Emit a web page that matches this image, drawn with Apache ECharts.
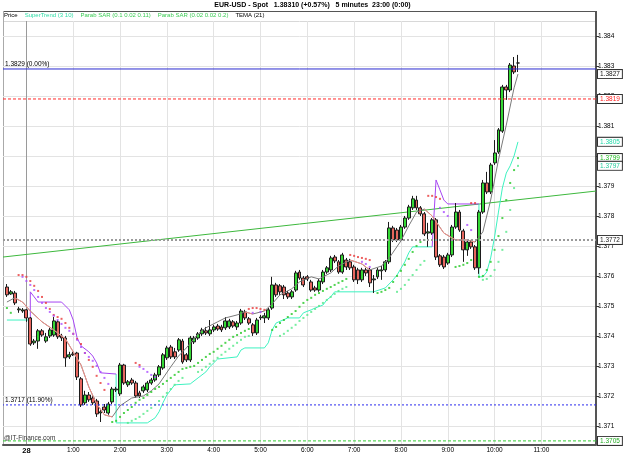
<!DOCTYPE html>
<html><head><meta charset="utf-8">
<script src="https://cdn.jsdelivr.net/npm/echarts@6/dist/echarts.min.js"></script>
<style>html,body{margin:0;padding:0;background:#fff}#c{width:625px;height:455px}</style>
</head><body><div id="c"></div>
<script>
// ---------- DATA ----------
const categories = [
'23:30','23:35','23:40','23:45','23:50','23:55',
'0:00','0:05','0:10','0:15','0:20','0:25','0:30','0:35','0:40','0:45','0:50','0:55',
'1:00','1:05','1:10','1:15','1:20','1:25','1:30','1:35','1:40','1:45','1:50','1:55',
'2:00','2:05','2:10','2:15','2:20','2:25','2:30','2:35','2:40','2:45','2:50','2:55',
'3:00','3:05','3:10','3:15','3:20','3:25','3:30','3:35','3:40','3:45','3:50','3:55',
'4:00','4:05','4:10','4:15','4:20','4:25','4:30','4:35','4:40','4:45','4:50','4:55',
'5:00','5:05','5:10','5:15','5:20','5:25','5:30','5:35','5:40','5:45','5:50','5:55',
'6:00','6:05','6:10','6:15','6:20','6:25','6:30','6:35','6:40','6:45','6:50','6:55',
'7:00','7:05','7:10','7:15','7:20','7:25','7:30','7:35','7:40','7:45','7:50','7:55',
'8:00','8:05','8:10','8:15','8:20','8:25','8:30','8:35','8:40','8:45','8:50','8:55',
'9:00','9:05','9:10','9:15','9:20','9:25','9:30','9:35','9:40','9:45','9:50','9:55',
'10:00','10:05','10:10','10:15','10:20','10:25','10:30','10:35','10:40','10:45','10:50','10:55',
'11:00','11:05','11:10','11:15','11:20','11:25','11:30','11:35','11:40','11:45','11:50','11:55',
'12:00','12:05','12:10'];
const dayLabel = {'0:00': '28'};
const hourLabels = ['0:00','1:00','2:00','3:00','4:00','5:00','6:00','7:00','8:00','9:00','10:00','11:00'];

// candles from 23:35, 5-minute bars: [open, close, low, high]
const candleStart = '23:35';
const candles = [
[1.37563,1.37537,1.37530,1.37573],[1.37540,1.37547,1.37537,1.37553],[1.37543,1.37510,1.37503,1.37550],
[1.37487,1.37490,1.37477,1.37497],[1.37483,1.37487,1.37477,1.37493],
[1.37487,1.37460,1.37447,1.37490],[1.37460,1.37373,1.37367,1.37463],[1.37377,1.37383,1.37370,1.37390],
[1.37383,1.37417,1.37357,1.37423],[1.37417,1.37403,1.37397,1.37423],[1.37383,1.37397,1.37377,1.37410],
[1.37400,1.37420,1.37393,1.37427],[1.37403,1.37450,1.37397,1.37463],[1.37447,1.37397,1.37390,1.37453],
[1.37400,1.37393,1.37383,1.37407],[1.37393,1.37327,1.37297,1.37400],[1.37330,1.37337,1.37323,1.37347],
[1.37340,1.37337,1.37333,1.37347],[1.37343,1.37263,1.37253,1.37347],[1.37257,1.37170,1.37163,1.37263],
[1.37177,1.37203,1.37170,1.37217],[1.37203,1.37187,1.37180,1.37213],[1.37193,1.37177,1.37170,1.37203],
[1.37183,1.37140,1.37130,1.37190],[1.37143,1.37147,1.37113,1.37153],[1.37163,1.37153,1.37143,1.37173],
[1.37143,1.37173,1.37137,1.37180],[1.37180,1.37223,1.37173,1.37230],[1.37220,1.37223,1.37213,1.37230],
[1.37207,1.37303,1.37200,1.37310],[1.37303,1.37243,1.37237,1.37307],[1.37237,1.37247,1.37230,1.37253],
[1.37253,1.37243,1.37237,1.37260],[1.37243,1.37200,1.37193,1.37250],[1.37210,1.37200,1.37193,1.37217],
[1.37217,1.37230,1.37210,1.37237],[1.37220,1.37243,1.37213,1.37250],[1.37243,1.37253,1.37237,1.37260],
[1.37253,1.37270,1.37247,1.37277],[1.37270,1.37297,1.37263,1.37303],[1.37293,1.37337,1.37287,1.37343],
[1.37327,1.37360,1.37320,1.37367],[1.37363,1.37330,1.37323,1.37370],[1.37347,1.37330,1.37323,1.37360],
[1.37353,1.37387,1.37347,1.37393],[1.37383,1.37313,1.37307,1.37390],[1.37337,1.37320,1.37313,1.37343],
[1.37320,1.37393,1.37313,1.37400],[1.37380,1.37393,1.37373,1.37400],[1.37393,1.37407,1.37387,1.37413],
[1.37407,1.37420,1.37400,1.37427],[1.37417,1.37410,1.37403,1.37430],[1.37407,1.37420,1.37400,1.37453],
[1.37420,1.37430,1.37413,1.37437],[1.37433,1.37423,1.37417,1.37440],[1.37430,1.37420,1.37413,1.37437],
[1.37427,1.37450,1.37420,1.37463],[1.37430,1.37450,1.37423,1.37457],[1.37447,1.37433,1.37427,1.37453],
[1.37430,1.37443,1.37420,1.37450],[1.37443,1.37483,1.37437,1.37490],[1.37480,1.37460,1.37453,1.37487],
[1.37457,1.37443,1.37437,1.37463],[1.37437,1.37410,1.37400,1.37443],[1.37410,1.37453,1.37403,1.37460],
[1.37460,1.37463,1.37453,1.37470],[1.37460,1.37467,1.37443,1.37477],[1.37460,1.37487,1.37453,1.37493],
[1.37493,1.37570,1.37487,1.37597],[1.37570,1.37537,1.37530,1.37577],[1.37567,1.37547,1.37537,1.37573],
[1.37563,1.37537,1.37523,1.37570],[1.37543,1.37530,1.37523,1.37550],[1.37530,1.37547,1.37523,1.37553],
[1.37553,1.37610,1.37547,1.37617],[1.37613,1.37593,1.37587,1.37620],[1.37593,1.37570,1.37563,1.37600],
[1.37597,1.37590,1.37583,1.37603],[1.37580,1.37553,1.37547,1.37587],[1.37560,1.37553,1.37547,1.37567],
[1.37553,1.37583,1.37547,1.37590],[1.37580,1.37613,1.37573,1.37620],[1.37613,1.37627,1.37607,1.37633],
[1.37620,1.37660,1.37613,1.37667],[1.37663,1.37650,1.37643,1.37670],[1.37647,1.37613,1.37607,1.37653],
[1.37613,1.37670,1.37607,1.37677],[1.37653,1.37630,1.37620,1.37660],[1.37647,1.37627,1.37620,1.37657],
[1.37630,1.37587,1.37580,1.37637],[1.37620,1.37587,1.37573,1.37627],[1.37587,1.37620,1.37580,1.37627],
[1.37620,1.37610,1.37600,1.37627],[1.37620,1.37577,1.37563,1.37627],[1.37587,1.37590,1.37543,1.37603],
[1.37597,1.37620,1.37590,1.37627],[1.37617,1.37620,1.37587,1.37633],[1.37620,1.37647,1.37613,1.37653],
[1.37647,1.37760,1.37640,1.37780],[1.37760,1.37720,1.37713,1.37767],[1.37753,1.37720,1.37713,1.37760],
[1.37720,1.37763,1.37713,1.37770],[1.37763,1.37793,1.37757,1.37800],[1.37793,1.37830,1.37787,1.37837],
[1.37827,1.37857,1.37820,1.37867],[1.37853,1.37827,1.37820,1.37867],[1.37827,1.37807,1.37800,1.37833],
[1.37807,1.37740,1.37733,1.37813],[1.37743,1.37747,1.37697,1.37777],[1.37743,1.37787,1.37737,1.37793],
[1.37787,1.37663,1.37653,1.37793],[1.37667,1.37637,1.37630,1.37673],[1.37663,1.37630,1.37623,1.37670],
[1.37643,1.37670,1.37637,1.37677],[1.37670,1.37763,1.37663,1.37770],[1.37763,1.37813,1.37757,1.37843],
[1.37813,1.37753,1.37747,1.37820],[1.37750,1.37687,1.37647,1.37757],[1.37687,1.37713,1.37667,1.37720],
[1.37713,1.37697,1.37690,1.37720],[1.37697,1.37627,1.37620,1.37703],[1.37627,1.37813,1.37607,1.37820],
[1.37813,1.37910,1.37807,1.37920],[1.37910,1.37880,1.37873,1.37947],[1.37880,1.37970,1.37873,1.37977],
[1.37977,1.38010,1.37970,1.38053],[1.38013,1.38087,1.38007,1.38093],[1.38083,1.38230,1.38077,1.38237],
[1.38230,1.38220,1.38187,1.38237],[1.38220,1.38303,1.38213,1.38310],[1.38300,1.38280,1.38273,1.38330],
[1.38310,1.38310,1.38280,1.38337]];

const tema = [['23:35',1.37513],['23:45',1.37527],['23:55',1.37513],['0:05',1.37483],['0:20',1.37447],['0:35',1.37420],
['0:50',1.37390],['1:00',1.37347],['1:10',1.37303],['1:20',1.37230],['1:30',1.37173],['1:40',1.37137],['1:50',1.37130],
['2:00',1.37167],['2:15',1.37193],['2:30',1.37200],['2:40',1.37217],['2:50',1.37240],['3:05',1.37297],['3:15',1.37333],
['3:25',1.37360],['3:40',1.37407],['3:50',1.37427],['4:05',1.37447],['4:15',1.37460],['4:30',1.37470],['4:40',1.37480],
['4:50',1.37473],['5:05',1.37483],['5:15',1.37507],['5:25',1.37537],['5:40',1.37557],['5:50',1.37580],['6:05',1.37597],
['6:15',1.37590],['6:30',1.37610],['6:40',1.37633],['6:55',1.37653],['7:10',1.37640],['7:20',1.37620],['7:35',1.37633],
['7:45',1.37660],['8:00',1.37717],['8:10',1.37767],['8:20',1.37813],['8:30',1.37823],['8:40',1.37800],['8:55',1.37743],
['9:10',1.37720],['9:25',1.37720],['9:35',1.37713],['9:45',1.37747],['9:55',1.37853],['10:05',1.37987],['10:15',1.38103],
['10:25',1.38227],['10:30',1.38273]];
const temaFalling = [['23:45','1:50'],['4:40','4:50'],['6:55','7:20'],['8:30','9:35']];

const superTrendUp = [
[['23:35',1.37453],['0:05',1.37453]],
[['1:55',1.37273],['1:55',1.37110],['2:35',1.37110],['2:45',1.37127],['2:50',1.37147],['2:55',1.37177],['3:00',1.37203],
 ['3:05',1.37220],['3:10',1.37237],['3:30',1.37240],['3:40',1.37260],['3:50',1.37280],['3:55',1.37297],['4:00',1.37310],
 ['4:05',1.37323],['4:30',1.37330],['4:35',1.37353],['4:40',1.37360],['5:05',1.37360],['5:10',1.37377],['5:15',1.37420],
 ['5:20',1.37443],['5:35',1.37460],['5:50',1.37460],['5:55',1.37477],['6:05',1.37487],['6:10',1.37493],['6:20',1.37503],
 ['6:25',1.37520],['6:30',1.37530],['6:35',1.37547],['7:25',1.37547],['7:40',1.37560],['7:50',1.37587],['7:55',1.37603],
 ['8:05',1.37647],['8:10',1.37677],['8:15',1.37697],['8:40',1.37697]],
[['9:40',1.37840],['9:40',1.37597],['9:45',1.37597],['9:50',1.37613],['9:55',1.37660],['10:00',1.37730],['10:05',1.37813],
 ['10:10',1.37893],['10:15',1.37943],['10:20',1.37967],['10:25',1.38000],['10:30',1.38047]]];
const superTrendDown = [
[['0:05',1.37453],['0:05',1.37547],['0:10',1.37530],['0:15',1.37513],['0:45',1.37513],['0:50',1.37500],['0:55',1.37487],
 ['1:00',1.37453],['1:05',1.37393],['1:10',1.37367],['1:20',1.37347],['1:25',1.37333],['1:30',1.37310],['1:35',1.37277],['1:55',1.37273]],
[['8:40',1.37697],['8:45',1.37920],['8:50',1.37887],['8:55',1.37853],['9:00',1.37840],['9:40',1.37840]]];

const sarFastAbove = [['23:50',1.37603],['23:55',1.37603],['0:00',1.37597],['0:05',1.37583],['0:10',1.37567],['0:15',1.37550],
['0:20',1.37530],['0:25',1.37510],['0:30',1.37490],['0:35',1.37470],['0:40',1.37463],['0:45',1.37457],['0:50',1.37443],
['0:55',1.37427],['1:00',1.37407],['1:05',1.37390],['1:10',1.37373],['1:15',1.37343],['1:20',1.37320],['1:25',1.37297],
['1:30',1.37267],['1:35',1.37243],['1:40',1.37220],['2:20',1.37310],['2:25',1.37303],
['4:45',1.37490],['4:50',1.37493],['4:55',1.37493],['5:00',1.37490],['5:05',1.37487],
['6:55',1.37670],['7:00',1.37667],['7:05',1.37663],['7:10',1.37660],['7:15',1.37657],['7:20',1.37653],
['8:35',1.37867],['8:40',1.37867],['8:45',1.37863],['8:50',1.37857],['9:30',1.37843],['9:35',1.37843]];
const sarSlowAbove = [['23:55',1.37597],['0:00',1.37583],['0:05',1.37570],['0:10',1.37553],['0:15',1.37530],['0:20',1.37510],
['0:25',1.37493],['0:30',1.37480],['0:35',1.37467],['0:40',1.37453],['0:45',1.37440],['0:50',1.37427],['0:55',1.37417],
['1:00',1.37407],['1:05',1.37387],['1:10',1.37363],['1:15',1.37343],['1:20',1.37330],['1:25',1.37317],['1:30',1.37300],
['1:35',1.37280],['1:40',1.37260],['1:45',1.37240],['2:25',1.37297],['2:30',1.37290],['2:35',1.37280],['2:40',1.37270],
['2:45',1.37263],['4:50',1.37477],['5:00',1.37480],['7:10',1.37647],['7:15',1.37640],['7:20',1.37630],
['8:50',1.37827],['8:55',1.37813],['9:00',1.37800],['9:25',1.37770],['9:30',1.37753]];
const sarFastBelow = [['23:35',1.37493],['23:40',1.37477],
['1:50',1.37113],['1:55',1.37117],['2:00',1.37130],['2:05',1.37143],['2:10',1.37153],['2:15',1.37163],['2:20',1.37177],
['2:25',1.37187],['2:30',1.37193],['2:35',1.37203],['2:40',1.37213],['2:45',1.37223],['2:50',1.37230],['2:55',1.37240],
['3:00',1.37250],['3:05',1.37260],['3:10',1.37270],['3:15',1.37280],['3:20',1.37290],['3:25',1.37293],['3:30',1.37297],
['3:35',1.37300],['3:40',1.37310],['3:45',1.37320],['3:50',1.37330],['3:55',1.37340],['4:00',1.37347],['4:05',1.37357],
['4:10',1.37367],['4:15',1.37377],['4:20',1.37387],['4:25',1.37397],['4:30',1.37403],['4:35',1.37410],['4:40',1.37417],
['4:45',1.37423],
['5:15',1.37420],['5:20',1.37430],['5:25',1.37443],['5:30',1.37453],['5:35',1.37463],['5:40',1.37473],['5:45',1.37483],
['5:50',1.37497],['5:55',1.37510],['6:00',1.37520],['6:05',1.37527],['6:10',1.37537],['6:15',1.37543],['6:20',1.37550],
['6:25',1.37557],['6:30',1.37563],['6:35',1.37570],['6:40',1.37577],['6:45',1.37583],['6:50',1.37590],
['7:30',1.37543],['7:35',1.37547],['7:40',1.37553],['7:45',1.37560],['7:50',1.37580],['7:55',1.37600],['8:00',1.37617],
['8:05',1.37637],['8:10',1.37657],['8:15',1.37680],['8:20',1.37700],['8:25',1.37713],['8:30',1.37720],
['9:10',1.37630],['9:15',1.37633],['9:20',1.37637],['9:25',1.37643],['9:30',1.37653],
['9:40',1.37597],['9:45',1.37600],['9:50',1.37620],['9:55',1.37647],['10:00',1.37687],['10:05',1.37733],['10:10',1.37793],
['10:15',1.37853],['10:20',1.37910],['10:25',1.37953],['10:30',1.37993]];
const sarSlowBelow = [['2:10',1.37110],['2:15',1.37117],['2:20',1.37123],['2:25',1.37130],['2:30',1.37140],['2:35',1.37150],
['2:40',1.37160],['2:45',1.37170],['2:50',1.37183],['2:55',1.37197],['3:00',1.37210],['3:05',1.37223],['3:10',1.37237],
['3:15',1.37250],['3:20',1.37260],
['3:40',1.37280],['3:45',1.37287],['3:50',1.37297],['3:55',1.37307],['4:00',1.37317],['4:05',1.37327],['4:10',1.37337],
['4:15',1.37347],['4:20',1.37357],['4:25',1.37367],['4:30',1.37377],['4:35',1.37387],['4:40',1.37397],['4:45',1.37400],
['5:25',1.37400],['5:30',1.37407],['5:35',1.37417],['5:40',1.37427],['5:45',1.37437],['5:50',1.37450],['5:55',1.37460],
['6:00',1.37470],['6:05',1.37480],['6:10',1.37490],['6:15',1.37500],['6:20',1.37510],['6:25',1.37520],['6:30',1.37530],
['6:35',1.37540],['6:40',1.37550],['6:45',1.37557],['6:50',1.37563],
['7:55',1.37547],['8:00',1.37557],['8:05',1.37570],['8:10',1.37587],['8:15',1.37603],['8:20',1.37620],['8:25',1.37637],
['8:30',1.37650],
['9:45',1.37587],['9:50',1.37590],['9:55',1.37600],['10:00',1.37620],['10:05',1.37647],['10:10',1.37687],['10:15',1.37747],
['10:20',1.37820],['10:25',1.37893],['10:30',1.37967]];

const trendLine = [['23:30',1.37663],['12:10',1.37883]];
const yTicks = [1.371,1.372,1.373,1.374,1.375,1.376,1.377,1.378,1.379,1.380,1.381,1.382,1.383,1.384];
const yMin = 1.37038, yMax = 1.3845;
const levelHigh = 1.3829, levelHighNote = '(0.00%)';
const levelLow = 1.3717, levelLowNote = '(11.90%)';
const levelRed = 1.3819, levelGray = 1.3772, levelGreen = 1.3705;
const titleText = 'EUR-USD - Spot   1.38310 (+0.57%)   5 minutes  23:00 (0:00)';

// ---------- CHART ----------
const FONT = 'Liberation Sans, Arial, sans-serif';
const C_ST_UP = '#3df2c0', C_ST_DN = '#a545f2', C_SAR = '#3ccc55';
const startIdx = categories.indexOf(candleStart);
const candleData = candles.map((c, j) => [startIdx + j, c[0], c[1], c[2], c[3]]);
const last = a => a[a.length - 1][1];
const catIdx = t => categories.indexOf(t);
const firstCat = categories[0], lastCat = categories[categories.length - 1];

const boxLabel = (text, color) => ({show: true, formatter: () => text, distance: 2, color: color, fontSize: 6.5,
  fontFamily: FONT, backgroundColor: '#fff', borderColor: '#333', borderWidth: 1, padding: [1, 2, 0, 2]});
const leftLabel = (text) => ({show: true, formatter: () => text, distance: 2, offset: [0, -5], color: '#000',
  fontSize: 6.5, fontFamily: FONT});

const series = [];
series.push({name: 'trend', type: 'line', data: trendLine, showSymbol: false, silent: true, z: 1,
  lineStyle: {color: '#3db83d', width: 1}, itemStyle: {color: '#3db83d'}});
// horizontal level lines; labelled at the right end (or left end when reversed)
const levelSeries = (v, color, type, width, label, reversed) => ({name: 'level', type: 'line', silent: true,
  showSymbol: false, z: 6, data: reversed ? [[lastCat, v], [firstCat, v]] : [[firstCat, v], [lastCat, v]],
  lineStyle: {color: color, type: type, width: width}, itemStyle: {color: color}, endLabel: label});
series.push(levelSeries(levelHigh, '#2a2ad0', 'solid', 1, leftLabel(levelHigh.toFixed(4) + ' ' + levelHighNote), true));
series.push(levelSeries(levelRed, '#ff2a2a', [3, 2], 1, boxLabel(levelRed.toFixed(4), '#ff2020')));
series.push(levelSeries(levelGray, '#9a9a9a', [2, 2], 2, boxLabel(levelGray.toFixed(4), '#222')));
series.push(levelSeries(levelLow, '#2a2aee', [2, 2], 1, leftLabel(levelLow.toFixed(4) + ' ' + levelLowNote), true));
series.push(levelSeries(levelGreen, '#33cc33', [3, 2], 1, boxLabel(levelGreen.toFixed(4), '#22aa22')));
// last-value tags on the price scale (no visible line)
const tags = [[last(tema), '#111'], [last(superTrendUp[superTrendUp.length - 1]), '#20d8a8'],
  [last(sarFastBelow), '#22bb22'], [last(sarSlowBelow), '#22cc99']];
tags.forEach(t => series.push(levelSeries(t[0], 'rgba(0,0,0,0)', 'solid', 1, boxLabel(t[0].toFixed(4), t[1]))));

superTrendUp.forEach(seg => series.push({name: 'SuperTrend (3 10)', type: 'line', data: seg, showSymbol: false, z: 2,
  lineStyle: {color: C_ST_UP, width: 1}, itemStyle: {color: C_ST_UP}}));
superTrendDown.forEach(seg => series.push({name: 'SuperTrend (3 10)', type: 'line', data: seg, showSymbol: false, z: 2,
  lineStyle: {color: C_ST_DN, width: 1}, itemStyle: {color: C_ST_UP}}));
series.push({
  name: 'Price', type: 'candlestick', data: candleData, barWidth: 3.4, z: 3,
  dimensions: ['t', 'open', 'close', 'lowest', 'highest'],
  encode: {x: 't', y: ['open', 'close', 'lowest', 'highest']},
  itemStyle: {color: '#35d835', color0: '#e8665e', borderColor: '#1c1c1c', borderColor0: '#1c1c1c', borderWidth: 1}
});
series.push({name: 'TEMA (21)', type: 'line', data: tema, showSymbol: false, z: 4,
  lineStyle: {width: 1, color: '#7a7a7a'}, itemStyle: {color: '#333'}});
temaFalling.forEach(r => series.push({name: 'TEMA (21)', type: 'line', showSymbol: false, z: 4.1,
  data: tema.filter(p => catIdx(p[0]) >= catIdx(r[0]) && catIdx(p[0]) <= catIdx(r[1])),
  lineStyle: {width: 1, color: '#f29088'}, itemStyle: {color: '#333'}}));
const dots = (name, data, color) => ({name: name, type: 'scatter', data: data, symbol: 'rect', symbolSize: 2, z: 5,
  itemStyle: {color: color}});
series.push(dots('Parab SAR (0.1 0.02 0.11)', sarFastAbove, '#e83a3a'));
series.push(dots('Parab SAR (0.1 0.02 0.11)', sarFastBelow, '#25c825'));
series.push(dots('Parab SAR (0.02 0.02 0.2)', sarSlowAbove, '#aa4cff'));
series.push(dots('Parab SAR (0.02 0.02 0.2)', sarSlowBelow, '#55e888'));

const isHour = v => hourLabels.indexOf(v) >= 0;
const gridColors = hourLabels.map(h => dayLabel[h] ? '#9a9a9a' : '#e3e3e3');

const option = {
  animation: false,
  textStyle: {fontFamily: FONT},
  title: {text: titleText, left: 'center', top: 0, padding: [2, 5], textStyle: {fontSize: 7, fontWeight: 'bold', color: '#000', fontFamily: FONT}},
  legend: {
    left: -1, top: 12, icon: 'none', itemWidth: 0, itemHeight: 0, itemGap: 2, padding: 0, selectedMode: false,
    textStyle: {fontSize: 6, fontFamily: FONT},
    data: [
      {name: 'Price', textStyle: {color: '#000'}},
      {name: 'SuperTrend (3 10)', textStyle: {color: '#2fdca6'}},
      {name: 'Parab SAR (0.1 0.02 0.11)', textStyle: {color: C_SAR}},
      {name: 'Parab SAR (0.02 0.02 0.2)', textStyle: {color: C_SAR}},
      {name: 'TEMA (21)', textStyle: {color: '#000'}}
    ]
  },
  grid: {left: 3, right: 29, top: 21, bottom: 10.5},
  xAxis: {
    type: 'category', data: categories, boundaryGap: false,
    axisLine: {lineStyle: {color: '#555', width: 2}},
    axisTick: {show: false},
    axisLabel: {interval: (i, v) => isHour(v), formatter: v => dayLabel[v] ? '{b|' + dayLabel[v] + '}' : v,
      fontSize: 6.5, color: '#000', margin: 2, fontFamily: FONT,
      rich: {b: {fontWeight: 'bold', fontSize: 7.5, fontFamily: FONT, color: '#000'}}},
    splitLine: {show: true, interval: (i, v) => isHour(v), lineStyle: {color: gridColors, width: 1}}
  },
  yAxis: {
    type: 'value', position: 'right', min: yMin, max: yMax,
    axisLine: {show: true, lineStyle: {color: '#555', width: 2}},
    axisTick: {show: true, length: 3, customValues: yTicks, lineStyle: {color: '#333'}},
    axisLabel: {customValues: yTicks, formatter: v => v.toFixed(3), fontSize: 6.5, color: '#000', margin: 2, fontFamily: FONT},
    splitLine: {show: true, lineStyle: {color: '#e3e3e3', width: 1}}
  },
  graphic: [
    {type: 'line', silent: true, shape: {x1: 3, y1: 11.5, x2: 597, y2: 11.5}, style: {stroke: '#555', lineWidth: 1}},
    {type: 'line', silent: true, shape: {x1: 3.5, y1: 11, x2: 3.5, y2: 445}, style: {stroke: '#aaa', lineWidth: 1}},
    {type: 'line', silent: true, shape: {x1: 4, y1: 21.5, x2: 595, y2: 21.5}, style: {stroke: '#d8d8d8', lineWidth: 1}},
    {type: 'line', silent: true, shape: {x1: 596, y1: 11, x2: 596, y2: 22}, style: {stroke: '#555', lineWidth: 2}},
    {type: 'text', silent: true, left: 4, top: 435, z: 10, style: {text: '@IT-Finance.com', fontSize: 6.5, fill: '#333', fontFamily: FONT}}
  ],
  series: series
};
const chart = echarts.init(document.getElementById('c'), null, {renderer: 'canvas'});
chart.setOption(option);
</script></body></html>
